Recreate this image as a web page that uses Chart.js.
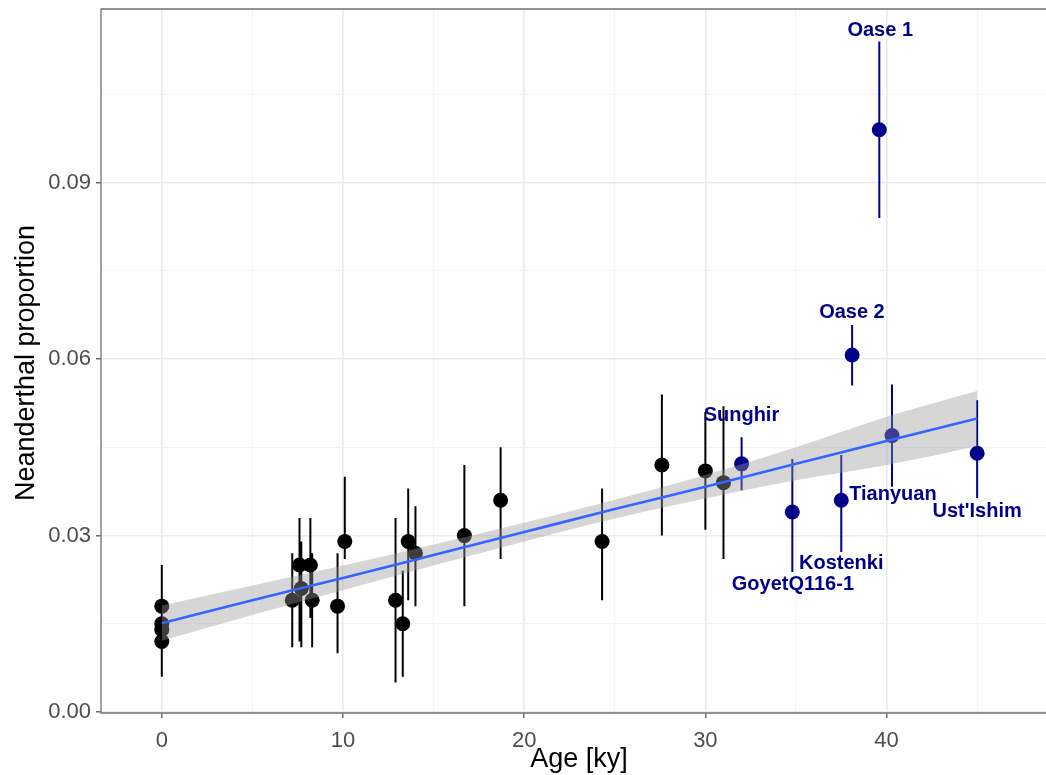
<!DOCTYPE html>
<html><head><meta charset="utf-8">
<script src="https://cdn.jsdelivr.net/npm/chart.js@4.4.1/dist/chart.umd.min.js"></script>
<style>html,body{margin:0;padding:0;background:#fff;} canvas{display:block;}</style>
</head><body>
<canvas id="c" width="1046" height="775"></canvas>
<script>
// ---------- data ----------
const xMajor = [0, 10, 20, 30, 40];
const xTickLabels = ['0', '10', '20', '30', '40'];
const xMinor = [5, 15, 25, 35, 45];
const yMajor = [0, 0.03, 0.06, 0.09];
const yTickLabels = ['0.00', '0.03', '0.06', '0.09'];
const yMinor = [0.015, 0.045, 0.075, 0.105];

// unlabelled samples (black)
const sampleAge  = [0, 0, 0, 0, 7.2, 7.6, 8.2, 7.7, 8.3, 9.7, 10.1, 12.9, 13.3, 13.6, 14.0, 16.7, 18.7, 24.3, 27.6, 30.0, 31.0];
const sampleProp = [0.018, 0.015, 0.014, 0.012, 0.019, 0.025, 0.025, 0.021, 0.019, 0.018, 0.029, 0.019, 0.015, 0.029, 0.027, 0.030, 0.036, 0.029, 0.042, 0.041, 0.039];
const sampleLo   = [0.011, 0.008, 0.007, 0.006, 0.011, 0.012, 0.016, 0.011, 0.011, 0.010, 0.026, 0.005, 0.006, 0.019, 0.018, 0.018, 0.026, 0.019, 0.030, 0.031, 0.026];
const sampleHi   = [0.025, 0.022, 0.021, 0.019, 0.027, 0.033, 0.033, 0.029, 0.027, 0.027, 0.040, 0.033, 0.024, 0.038, 0.035, 0.042, 0.045, 0.038, 0.054, 0.051, 0.052];

// named ancient samples (dark blue)
const namedLabel = ['Oase 1', 'Oase 2', 'Sunghir', 'GoyetQ116-1', 'Kostenki', 'Tianyuan', "Ust'Ishim"];
const namedAge   = [39.6, 38.1, 32.0, 34.8, 37.5, 40.3, 45.0];
const namedProp  = [0.0990, 0.0607, 0.0422, 0.0340, 0.0360, 0.0470, 0.0440];
const namedLo    = [0.0840, 0.0555, 0.0377, 0.0238, 0.0272, 0.0383, 0.0364];
const namedHi    = [0.1140, 0.0658, 0.0467, 0.0430, 0.0437, 0.0557, 0.0530];
// where each name's text sits (data units: centre x, baseline y)
const namedLabelAge  = [39.65, 38.09, 31.99, 34.83, 37.5, 40.35, 45.0];
const namedLabelProp = [0.1149, 0.0670, 0.0495, 0.0208, 0.0243, 0.0360, 0.0332];

// linear fit with confidence band
const fitAge = [0, 5, 10, 15, 20, 25, 30, 35, 40, 45];
const fitMid = [0.0151, 0.0190, 0.0228, 0.0267, 0.0306, 0.0345, 0.0383, 0.0422, 0.0461, 0.0499];
const fitHi  = [0.0181, 0.0215, 0.0249, 0.0285, 0.0322, 0.0361, 0.0403, 0.0450, 0.0502, 0.0546];
const fitLo  = [0.0121, 0.0165, 0.0207, 0.0249, 0.0290, 0.0329, 0.0363, 0.0394, 0.0420, 0.0452];

const xTitle = 'Age [ky]';
const yTitle = 'Neanderthal proportion';

// ---------- styling ----------
const NAVY = '#00008B';
const FONT = '"Liberation Sans", Arial, Helvetica, sans-serif';
Chart.defaults.font.family = FONT;

function errSegments(xs, lo, hi) {
  const out = [];
  xs.forEach((x, i) => { out.push({x: x, y: lo[i]}, {x: x, y: hi[i]}, {x: x, y: null}); });
  return out;
}
const pts = (xs, ys) => xs.map((x, i) => ({x: x, y: ys[i]}));

const xTicksAll = xMajor.concat(xMinor).sort((a, b) => a - b);
const yTicksAll = yMajor.concat(yMinor).sort((a, b) => a - b);
const isMajor = (arr, v) => arr.some(m => Math.abs(m - v) < 1e-9);

const panelBorder = {
  id: 'panelBorder',
  afterDatasetsDraw(chart) {
    const {ctx, chartArea: a} = chart;
    ctx.save();
    ctx.strokeStyle = '#707070';
    ctx.lineWidth = 1.3;
    ctx.beginPath();
    ctx.moveTo(a.right + 2, a.top);
    ctx.lineTo(a.left, a.top);
    ctx.lineTo(a.left, a.bottom);
    ctx.lineTo(a.right + 2, a.bottom);
    ctx.stroke();
    ctx.restore();
  }
};

const textLayer = {
  id: 'textLayer',
  afterDraw(chart) {
    const {ctx} = chart;
    const xs = chart.scales.x, ys = chart.scales.y;
    ctx.save();
    // point labels
    ctx.fillStyle = NAVY;
    ctx.font = 'bold 20px ' + FONT;
    ctx.textAlign = 'center';
    ctx.textBaseline = 'alphabetic';
    namedLabel.forEach((t, i) => {
      ctx.fillText(t, xs.getPixelForValue(namedLabelAge[i]), ys.getPixelForValue(namedLabelProp[i]));
    });
    // axis titles
    ctx.fillStyle = '#000';
    ctx.font = '27px ' + FONT;
    ctx.fillText(xTitle, 579, 767);
    ctx.translate(33.5, 363);
    ctx.rotate(-Math.PI / 2);
    ctx.fillText(yTitle, 0, 0);
    ctx.restore();
  }
};

new Chart(document.getElementById('c'), {
  type: 'scatter',
  data: {
    datasets: [
      { // regression line
        type: 'line', data: pts(fitAge, fitMid), borderColor: '#3366FF', borderWidth: 2.6,
        pointRadius: 0, fill: false, order: 1, cubicInterpolationMode: 'monotone'
      },
      { // band upper
        type: 'line', data: pts(fitAge, fitHi), borderColor: 'rgba(0,0,0,0)', borderWidth: 0,
        pointRadius: 0, fill: false, order: 2, cubicInterpolationMode: 'monotone'
      },
      { // band lower
        type: 'line', data: pts(fitAge, fitLo), borderColor: 'rgba(0,0,0,0)', borderWidth: 0,
        pointRadius: 0, fill: '-1', backgroundColor: 'rgba(153,153,153,0.4)', order: 2,
        cubicInterpolationMode: 'monotone'
      },
      { // black points
        data: pts(sampleAge, sampleProp), backgroundColor: '#000', borderWidth: 0,
        pointRadius: 7.5, order: 3
      },
      { // blue points
        data: pts(namedAge, namedProp), backgroundColor: NAVY, borderWidth: 0,
        pointRadius: 7.5, order: 3
      },
      { // black error bars
        type: 'line', data: errSegments(sampleAge, sampleLo, sampleHi), showLine: true, spanGaps: false,
        borderColor: '#000', borderWidth: 2, pointRadius: 0, fill: false, order: 4
      },
      { // blue error bars
        type: 'line', data: errSegments(namedAge, namedLo, namedHi), showLine: true, spanGaps: false,
        borderColor: NAVY, borderWidth: 2, pointRadius: 0, fill: false, order: 4
      }
    ]
  },
  options: {
    responsive: false,
    animation: false,
    events: [],
    layout: { autoPadding: false, padding: { top: 9, right: 0, left: 0, bottom: 0 } },
    plugins: { legend: { display: false }, tooltip: { enabled: false } },
    scales: {
      x: {
        type: 'linear', min: -3.355, max: 48.80,
        afterBuildTicks: s => { s.ticks = xTicksAll.map(v => ({value: v})); },
        afterFit: s => { s.height = 62; s.paddingLeft = 0; s.paddingRight = 0; },
        border: { display: false },
        grid: {
          color: c => isMajor(xMajor, c.tick.value) ? '#EBEBEB' : '#F3F3F3',
          lineWidth: c => isMajor(xMajor, c.tick.value) ? 1.6 : 1,
          drawTicks: true, tickLength: 5,
          tickColor: c => isMajor(xMajor, c.tick.value) ? '#555' : 'rgba(0,0,0,0)', tickWidth: 1.3
        },
        ticks: {
          autoSkip: false, maxRotation: 0, padding: 10, color: '#4D4D4D', font: { size: 22 },
          callback: v => { const i = xMajor.findIndex(m => Math.abs(m - v) < 1e-9); return i >= 0 ? xTickLabels[i] : ''; }
        }
      },
      y: {
        type: 'linear', min: -0.00017, max: 0.11954,
        afterBuildTicks: s => { s.ticks = yTicksAll.map(v => ({value: v})); },
        afterFit: s => { s.width = 101; s.paddingTop = 0; s.paddingBottom = 0; },
        border: { display: false },
        grid: {
          color: c => isMajor(yMajor, c.tick.value) ? '#EBEBEB' : '#F3F3F3',
          lineWidth: c => isMajor(yMajor, c.tick.value) ? 1.6 : 1,
          drawTicks: true, tickLength: 5,
          tickColor: c => isMajor(yMajor, c.tick.value) ? '#555' : 'rgba(0,0,0,0)', tickWidth: 1.3
        },
        ticks: {
          autoSkip: false, padding: 5, color: '#4D4D4D', font: { size: 22 },
          callback: v => { const i = yMajor.findIndex(m => Math.abs(m - v) < 1e-9); return i >= 0 ? yTickLabels[i] : ''; }
        }
      }
    }
  },
  plugins: [panelBorder, textLayer]
});
</script>
</body></html>
